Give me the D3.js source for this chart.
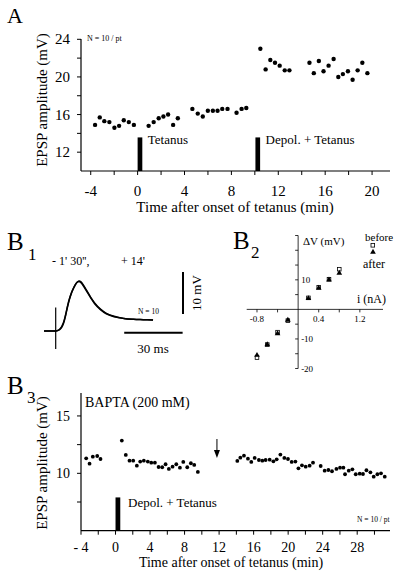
<!DOCTYPE html>
<html><head><meta charset="utf-8">
<script src="https://cdn.jsdelivr.net/npm/d3@7"></script>
<style>body{margin:0;background:#fff}svg{display:block}text{font-family:"Liberation Serif","Times New Roman",serif;fill:#000}</style>
</head><body><svg id="c" width="400" height="578"></svg>
<script>
// ---------- Panel A data ----------
const aTime = [-3.63,-3.23,-2.84,-2.41,-1.98,-1.58,-1.18,-0.75,-0.32,
  0.94,1.37,1.8,2.2,2.6,3.03,3.43,
  4.67,5.13,5.56,5.99,6.42,6.82,7.22,7.67,8.44,8.87,9.27,
  10.47,10.92,11.32,11.72,12.12,12.55,12.95,
  14.66,15.03,15.46,15.86,16.29,16.72,17.12,17.51,17.94,18.34,18.77,19.17,19.6];
const aEpsp = [14.9,15.7,15.3,15.2,14.6,14.8,15.4,15.2,14.9,
  14.8,15.2,15.6,15.8,16.0,14.9,15.6,
  16.6,16.1,15.8,16.4,16.4,16.4,16.6,16.6,16.2,16.6,16.7,
  23.0,20.8,21.8,21.5,21.2,20.7,20.7,
  21.5,20.4,21.7,20.6,21.2,21.9,20.0,20.3,20.6,19.7,20.7,21.5,20.4];
const aYTicks = [12,14,16,18,20,22,24];
const aYLabels = [12,16,20,24];
const aXTicks = [-4,-2,0,2,4,6,8,10,12,14,16,18,20];
const aXLabels = [-4,0,4,8,12,16,20];
const aStim = [{t0:0, t1:0.4, label:"Tetanus"},{t0:10.05, t1:10.45, label:"Depol. + Tetanus"}];

// ---------- Panel B1 data (EPSP traces) ----------
const traceTime = [-6,-1,0,1,2,3,4,5,6,7,8,9,10,11,12,13,14,16,18,20,23,26,30,35,40,45,50];
const traceBefore = [0,0,0,0.1,0.3,0.8,1.8,3.5,5.6,7.4,8.9,10.0,10.9,11.6,11.9,11.7,11.1,9.6,8.0,6.7,5.2,4.2,3.5,3.0,2.8,2.7,2.6];
const traceAfter  = [0,0,0,0.1,0.4,1.0,2.0,3.7,5.8,7.6,9.0,10.1,11.0,11.6,11.8,11.5,10.9,9.4,7.9,6.5,5.1,4.1,3.4,3.0,2.8,2.7,2.6];

// ---------- Panel B2 data (I-V) ----------
const ivCurrent = [-0.8,-0.6,-0.4,-0.2,0.2,0.4,0.6,0.8];
const ivBefore  = [-16.3,-11.9,-7.7,-3.8,3.9,7.5,10.2,13.6];
const ivAfter   = [-15.5,-11.9,-8.2,-3.6,3.7,7.2,10.0,12.3];
const b2YTicks = [-20,-15,-10,-5,5,10,15,20,25];
const b2YLabels = [-20,-10,10];
const b2XTicks = [-0.8,-0.4,0.4,0.8,1.2];
const b2XLabels = [-0.8,0.4,1.2];

// ---------- Panel B3 data ----------
const bTime = [-3.4,-3.01,-2.63,-2.12,-1.74,
  0.73,1.19,1.62,2.05,2.47,2.86,3.28,3.74,4.14,4.56,4.99,5.41,5.8,6.18,6.61,7.04,7.46,7.85,8.31,8.73,9.12,9.54,
  14.11,14.46,14.88,15.34,15.73,16.12,16.61,17.01,17.39,17.86,18.29,18.67,19.1,19.56,19.98,20.41,20.84,
  21.19,21.6,22.03,22.49,22.88,23.77,24.23,24.66,25.08,25.59,26.01,26.4,26.59,27.02,27.44,27.83,28.29,
  28.67,29.07,29.53,29.91,30.34,30.76,31.19];
const bEpsp = [11.31,10.84,11.45,11.51,11.25,
  12.85,11.6,11.1,11.1,10.67,11.02,11.1,11.02,10.93,10.93,10.55,10.53,10.79,10.38,10.58,10.79,10.49,10.99,10.53,10.88,10.73,10.12,
  11.08,11.36,11.54,11.28,10.99,11.34,11.16,11.1,11.16,11.19,11.05,11.22,11.63,11.34,11.25,10.99,11.02,
  10.44,10.7,10.58,10.67,10.93,10.64,10.23,10.29,10.18,10.38,10.49,10.49,9.92,10.23,10.35,9.92,9.97,
  9.94,10.27,10.09,9.71,9.92,10.0,9.71];
const bYTicks = [7.5,10,12.5,15];
const bYLabels = [10,15];
const bXTicks = [-4,-2,0,2,4,6,8,10,12,14,16,18,20,22,24,26,28,30];
const bXLabels = [-4,0,4,8,12,16,20,24,28];
const bArrowTime = 11.75;

const svg = d3.select("#c");
svg.append("rect").attr("width",400).attr("height",578).attr("fill","#fff");

function txt(x,y,s,size,anchor){
  const t = svg.append("text").attr("x",x).attr("y",y).attr("font-size",size).text(s);
  if(anchor) t.attr("text-anchor",anchor);
  return t;
}
function line(x1,y1,x2,y2,w){
  svg.append("line").attr("x1",x1).attr("y1",y1).attr("x2",x2).attr("y2",y2)
    .attr("stroke","#000").attr("stroke-width",w||1);
}

// ================= Panel A =================
{
  const x = d3.scaleLinear().domain([-4.83,21.53]).range([81,390]);
  const y = d3.scaleLinear().domain([10,24]).range([171,39.3]);
  line(81,171,390,171,1.2);
  line(81,171,81,39,1.2);
  aYTicks.forEach(v=>line(77,y(v),81,y(v),1));
  aYLabels.forEach(v=>txt(70,y(v)+5,v,15,"end"));
  aXTicks.forEach(v=>line(x(v),171,x(v),175,1));
  aXLabels.forEach(v=>txt(x(v),196,v,15,"middle"));
  txt(235,212,"Time after onset of tetanus (min)",15,"middle");
  svg.append("text").attr("transform","translate(47,100) rotate(-90)").attr("text-anchor","middle")
    .attr("font-size",15).text("EPSP amplitude (mV)");
  txt(7,23,"A",22);
  txt(87,41,"N = 10 / pt",8);
  aStim.forEach(s=>{
    svg.append("rect").attr("x",x(s.t0)).attr("y",y(13.57)).attr("width",x(s.t1)-x(s.t0))
      .attr("height",y(10)-y(13.57)).attr("fill","#000");
    txt(x(s.t1)+5.5,y(13.57)+7,s.label,13);
  });
  svg.append("g").selectAll("circle").data(aTime).join("circle")
    .attr("cx",d=>x(d)).attr("cy",(d,i)=>y(aEpsp[i])).attr("r",2.2).attr("fill","#000");
}

// ================= Panel B1 =================
{
  const x = d3.scaleLinear().domain([0,30]).range([55.7,114.1]);
  const y = d3.scaleLinear().domain([0,10]).range([331,289]);
  const ln = d3.line().x((d,i)=>x(traceTime[i])).y(d=>y(d)).curve(d3.curveCatmullRom);
  svg.append("path").attr("d",ln(traceBefore)).attr("fill","none").attr("stroke","#000").attr("stroke-width",1.5);
  svg.append("path").attr("d",ln(traceAfter)).attr("fill","none").attr("stroke","#000").attr("stroke-width",1.5);
  line(x(0),y(5.6),x(0),y(-4.3),1.2);
  // scale bars
  line(x(65.4),y(4.05),x(65.4),y(14.05),2);
  line(x(35.2),y(-0.4),x(65.2),y(-0.4),2);
  txt(153,353,"30 ms",13,"middle");
  svg.append("text").attr("transform","translate(201,293) rotate(-90)").attr("text-anchor","middle")
    .attr("font-size",13).text("10 mV");
  txt(138,314,"N = 10",7.5);
  txt(7,250,"B",25);
  txt(28,260,"1",17);
  txt(52,265,"- 1' 30'',",12);
  txt(121,265,"+ 14'",12);
}

// ================= Panel B2 =================
{
  const x = d3.scaleLinear().domain([-1.0,1.65]).range([246.7,383]);
  const y = d3.scaleLinear().domain([-20,25]).range([368.5,235.5]);
  line(x(-1.0),y(0),x(1.65),y(0),0.8);
  line(x(0),y(-20),x(0),y(25),0.8);
  b2YTicks.forEach(v=>line(x(0)-3,y(v),x(0),y(v),0.8));
  b2YLabels.forEach(v=>txt(x(0)+3,y(v)+3,v,9,"start"));
  b2XTicks.forEach(v=>line(x(v),y(0),x(v),y(0)+3,0.8));
  b2XLabels.forEach(v=>txt(x(v),y(0)+13,v,9,"middle"));
  txt(357,303,"i (nA)",12);
  txt(303,245,"\u0394V (mV)",11);
  txt(365,241,"before",11);
  txt(363,268,"after",12);
  // legend markers
  svg.append("rect").attr("x",371).attr("y",243.5).attr("width",3.6).attr("height",3.6)
    .attr("fill","#fff").attr("stroke","#000").attr("stroke-width",0.8);
  svg.append("path").attr("d",d3.symbol(d3.symbolTriangle,14)()).attr("transform","translate(373,252)").attr("fill","#000");
  svg.append("g").selectAll("path").data(ivCurrent).join("path")
    .attr("d",d3.symbol(d3.symbolTriangle,14)())
    .attr("transform",(d,i)=>`translate(${x(d)},${y(ivAfter[i])})`).attr("fill","#000");
  svg.append("g").selectAll("rect").data(ivCurrent).join("rect")
    .attr("x",d=>x(d)-1.8).attr("y",(d,i)=>y(ivBefore[i])-1.8).attr("width",3.6).attr("height",3.6)
    .attr("fill","none").attr("stroke","#000").attr("stroke-width",0.8);
  txt(233,249,"B",25);
  txt(251,258,"2",17);
}

// ================= Panel B3 =================
{
  const x = d3.scaleLinear().domain([-4,31.8]).range([81,390]);
  const y = d3.scaleLinear().domain([5,17]).range([530.7,393]);
  line(81,530.7,390,530.7,1.2);
  line(81,530.7,81,393,1.2);
  bYTicks.forEach(v=>line(77,y(v),81,y(v),1));
  bYLabels.forEach(v=>txt(70,y(v)+5,v,14,"end"));
  bXTicks.forEach(v=>line(x(v),530.7,x(v),534.7,1));
  bXLabels.forEach(v=>txt(x(v),552,v<0?"- "+(-v):v,14,"middle"));
  txt(231,567,"Time after onset of tetanus (min)",14,"middle");
  svg.append("text").attr("transform","translate(47,463) rotate(-90)").attr("text-anchor","middle")
    .attr("font-size",15).text("EPSP amplitude (mV)");
  txt(85,407,"BAPTA (200 mM)",14);
  svg.append("rect").attr("x",x(0)).attr("y",y(7.9)).attr("width",x(0.55)-x(0))
    .attr("height",y(5)-y(7.9)).attr("fill","#000");
  txt(128,507,"Depol. + Tetanus",13);
  txt(357,522,"N = 10 / pt",7.5);
  // arrow
  line(x(bArrowTime),439,x(bArrowTime),452,1);
  svg.append("path").attr("d",`M${x(bArrowTime)-3},450 L${x(bArrowTime)+3},450 L${x(bArrowTime)},458 Z`).attr("fill","#000");
  svg.append("g").selectAll("circle").data(bTime).join("circle")
    .attr("cx",d=>x(d)).attr("cy",(d,i)=>y(bEpsp[i])).attr("r",1.9).attr("fill","#000");
  txt(7,394,"B",25);
  txt(27,403,"3",17);
}
</script></body></html>
